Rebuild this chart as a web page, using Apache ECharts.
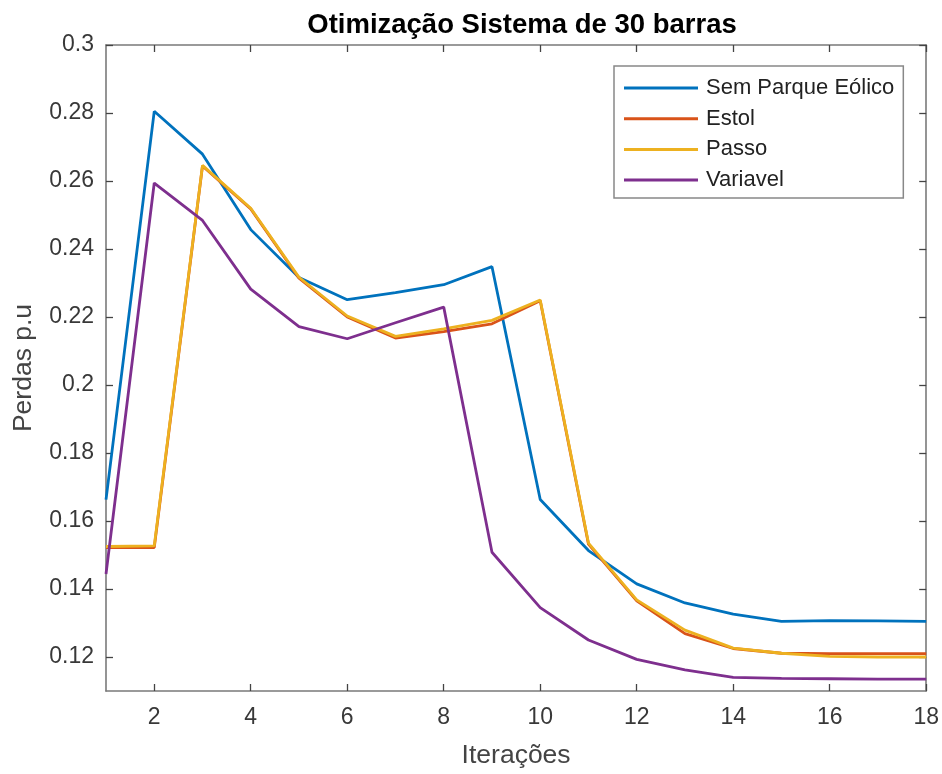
<!DOCTYPE html>
<html>
<head>
<meta charset="utf-8">
<script src="https://cdn.jsdelivr.net/npm/echarts@6/dist/echarts.min.js"></script>
<style>
  html, body { margin: 0; padding: 0; background: #ffffff; }
  #chart { width: 942px; height: 774px; }
</style>
</head>
<body>
<div id="chart"></div>
<script>
// Iteration numbers along the x axis
const iteracoes = [1, 2, 3, 4, 5, 6, 7, 8, 9, 10, 11, 12, 13, 14, 15, 16, 17, 18];

// Losses (p.u) per iteration for each case
const semParque = [0.1663, 0.2805, 0.2679, 0.2457, 0.2316, 0.2251, 0.2272, 0.2295, 0.2348, 0.1663, 0.1513, 0.1415, 0.1359, 0.1326, 0.1305, 0.1307, 0.1306, 0.1305];
const estol     = [0.1522, 0.1522, 0.2644, 0.2518, 0.2314, 0.2200, 0.2138, 0.2157, 0.2180, 0.2248, 0.1532, 0.1365, 0.1269, 0.1225, 0.1211, 0.1210, 0.1210, 0.1210];
const passo     = [0.1525, 0.1527, 0.2646, 0.2520, 0.2317, 0.2203, 0.2143, 0.2165, 0.2190, 0.2250, 0.1535, 0.1368, 0.1279, 0.1226, 0.1211, 0.1202, 0.1200, 0.1200];
const variavel  = [0.1444, 0.2594, 0.2484, 0.2282, 0.2172, 0.2136, 0.2183, 0.2229, 0.1508, 0.1345, 0.1250, 0.1193, 0.1162, 0.1140, 0.1137, 0.1136, 0.1135, 0.1135];

// Tick positions
const xTicks = [2, 4, 6, 8, 10, 12, 14, 16, 18];
const yTicks = [0.12, 0.14, 0.16, 0.18, 0.2, 0.22, 0.24, 0.26, 0.28, 0.3];

const seriesNames = ['Sem Parque Eólico', 'Estol', 'Passo', 'Variavel'];
const seriesValues = [semParque, estol, passo, variavel];
const colors = ['#0072BD', '#D95319', '#EDB120', '#7E2F8E'];

const FONT = '"Liberation Sans", Arial, Helvetica, sans-serif';
const AXIS_COLOR = '#7a7a7a';
const LABEL_COLOR = '#383838';

const toPairs = (vals) => iteracoes.map((x, i) => [x, vals[i]]);

function xAxisDef(pos, showLabels) {
  return {
    type: 'value', position: pos, min: 1, max: 18,
    axisLine: { show: true, onZero: false, lineStyle: { color: AXIS_COLOR, width: 1.6 } },
    axisTick: { show: true, inside: true, length: 7, customValues: xTicks, lineStyle: { color: '#444', width: 1.3 } },
    axisLabel: { show: showLabels, customValues: xTicks, color: LABEL_COLOR, fontFamily: FONT, fontSize: 23, margin: 15 },
    splitLine: { show: false },
    name: showLabels ? 'Iterações' : '',
    nameLocation: 'middle', nameGap: 51,
    nameTextStyle: { color: '#444444', fontFamily: FONT, fontSize: 26.5 }
  };
}

function yAxisDef(pos, showLabels) {
  return {
    type: 'value', position: pos, min: 0.11, max: 0.3,
    axisLine: { show: true, onZero: false, lineStyle: { color: AXIS_COLOR, width: 1.6 } },
    axisTick: { show: true, inside: true, length: 7, customValues: yTicks, lineStyle: { color: '#444', width: 1.3 } },
    axisLabel: { show: showLabels, customValues: yTicks, color: LABEL_COLOR, fontFamily: FONT, fontSize: 23, margin: 12,
                 formatter: (v) => String(Math.round(v * 100) / 100) },
    splitLine: { show: false },
    name: showLabels ? 'Perdas p.u' : '',
    nameLocation: 'middle', nameGap: 69,
    nameTextStyle: { color: '#444444', fontFamily: FONT, fontSize: 26.5 }
  };
}

const chart = echarts.init(document.getElementById('chart'), null, { renderer: 'canvas' });

chart.setOption({
  backgroundColor: '#ffffff',
  animation: false,
  title: {
    text: 'Otimização Sistema de 30 barras',
    left: 517, top: 6, textAlign: 'center',
    textStyle: { fontFamily: FONT, fontSize: 27.5, fontWeight: 'bold', color: '#000000' }
  },
  grid: { left: 106, right: 15, top: 45, bottom: 80 },
  xAxis: [xAxisDef('bottom', true), xAxisDef('top', false)],
  yAxis: [yAxisDef('left', true), yAxisDef('right', false)],
  legend: {
    orient: 'vertical',
    left: 614, top: 66,
    data: seriesNames,
    icon: 'rect',
    itemWidth: 74, itemHeight: 3,
    itemGap: 8.7,
    padding: [11, 9, 7, 10],
    borderColor: '#888888', borderWidth: 1.5,
    backgroundColor: '#ffffff',
    textStyle: { fontFamily: FONT, fontSize: 22, color: '#222222', lineHeight: 22, padding: [0, 0, 0, 3] }
  },
  series: seriesNames.map((name, i) => ({
    name: name,
    type: 'line',
    xAxisIndex: 0, yAxisIndex: 0,
    data: toPairs(seriesValues[i]),
    showSymbol: false,
    symbol: 'none',
    color: colors[i],
    lineStyle: { color: colors[i], width: 2.8 },
    z: 2 + i
  }))
});
</script>
</body>
</html>
